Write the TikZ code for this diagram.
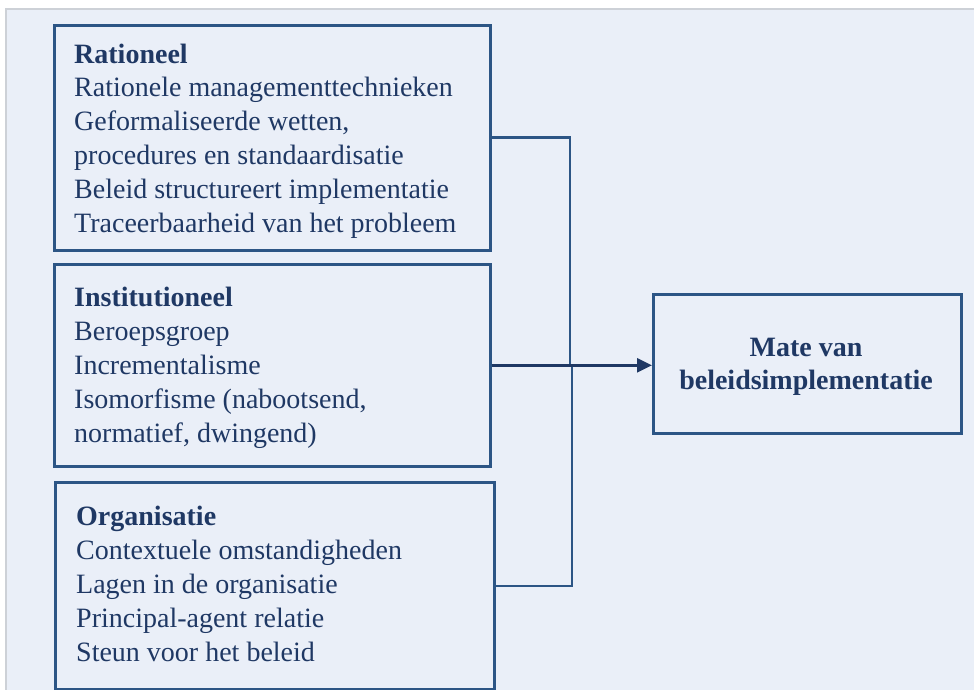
\documentclass[tikz,border=0pt]{standalone}
\usepackage{fontspec}
\setmainfont{Liberation Serif}
\usetikzlibrary{arrows.meta}

\definecolor{panelbg}{HTML}{EAEFF8}
\definecolor{panelrule}{HTML}{CDD1D7}
\definecolor{boxrule}{HTML}{2C5585}
\definecolor{ink}{HTML}{1F3864}

\tikzset{
  factorbox/.style={draw=boxrule, line width=2.6pt, rectangle, inner sep=0pt, anchor=north west},
  factortext/.style={text=ink, align=left, anchor=base west, inner sep=0pt,
    font=\fontsize{28}{33.8}\selectfont},
  outcometext/.style={text=ink, align=center, inner sep=0pt,
    font=\fontsize{28}{32.5}\selectfont\bfseries},
  link/.style={draw=boxrule, line width=2.6pt},
  arrowlink/.style={draw=ink, line width=2.6pt, -{Triangle[length=15pt,width=14pt]}},
}

\begin{document}
\begin{tikzpicture}[x=1pt, y=-1pt]
  \useasboundingbox (0,0) rectangle (974,690);

  % panel behind the scheme
  \fill[panelbg] (7,10) rectangle (974,690);
  \draw[panelrule, line width=2pt] (6,690) -- (6,9.5) -- (974,9.5);

  % the three groups of factors (text placed by the baseline of its last line)
  \node[factorbox, minimum width=436pt, minimum height=225pt] (rat) at (53,24) {};
  \node[factortext] (rattxt) at (74,232)
    {\textbf{Rationeel}\\Rationele managementtechnieken\\Geformaliseerde wetten,\\procedures en standaardisatie\\Beleid structureert implementatie\\Traceerbaarheid van het probleem};

  \node[factorbox, minimum width=436pt, minimum height=202pt] (inst) at (53,263) {};
  \node[factortext] (insttxt) at (74,442)
    {\textbf{Institutioneel}\\Beroepsgroep\\Incrementalisme\\Isomorfisme (nabootsend,\\normatief, dwingend)};

  \node[factorbox, minimum width=439pt, minimum height=207pt] (org) at (54,481) {};
  \node[factortext] (orgtxt) at (76,661)
    {\textbf{Organisatie}\\Contextuele omstandigheden\\Lagen in de organisatie\\Principal-agent relatie\\Steun voor het beleid};

  % outcome
  \node[factorbox, minimum width=308pt, minimum height=139pt] (mate) at (652,293) {};
  \node[outcometext, anchor=base] (matetxt) at (806,389) {Mate van\\beleidsimplementatie};

  % connectors
  \coordinate (jtop) at (570,363.5);
  \coordinate (jbot) at (572,363.5);
  \draw[link] (rat.east) -| (jtop);
  \draw[link] (org.east) -| (jbot);
  \draw[arrowlink] (inst.east) -- (inst.east -| mate.west);
\end{tikzpicture}
\end{document}
